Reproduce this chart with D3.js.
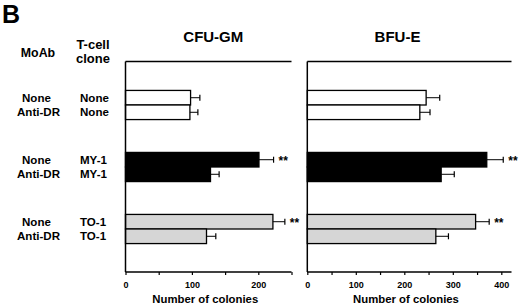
<!DOCTYPE html>
<html><head><meta charset="utf-8">
<script src="https://cdn.jsdelivr.net/npm/d3@7"></script>
<style>
html,body{margin:0;padding:0;background:#fff;}
svg{display:block;font-family:"Liberation Sans",Arial,Helvetica,sans-serif;font-weight:bold;}
</style></head>
<body><svg id="c" width="520" height="305"></svg>
<script>
// ---- data ----
const groups = ["None", "MY-1", "TO-1"];            // T-cell clone groups
const moab = ["None", "Anti-DR"];                    // MoAb within each group
const cloneLabels = ["None", "MY-1", "TO-1"];
const cfuGM = [[98, 97], [201, 128], [222, 122]];
const cfuGMErr = [[112, 109], [223, 141], [240, 136]];
const bfuE = [[245, 232], [370, 276], [347, 265]];
const bfuEErr = [[273, 253], [404, 303], [375, 291]];
const sigCFU = [[false, false], [true, false], [true, false]];
const sigBFU = [[false, false], [true, false], [true, false]];
const cfuTicks = [0, 50, 100, 150, 200, 250];
const cfuLabels = [0, 100, 200];
const bfuTicks = [0, 50, 100, 150, 200, 250, 300, 350, 400];
const bfuLabels = [0, 100, 200, 300, 400];
const fills = ["#ffffff", "#000000", "#d6d6d6"];

(function () {
const svg = d3.select("#c");
const plotTop = 61.5, plotBottom = 272;

// helper: text with horizontal stretch factor k
function txt(parent, x, yy, s, size, anchor, k) {
  const t = parent.append("text").attr("x", x).attr("y", yy).attr("font-size", size)
    .attr("text-anchor", anchor || "start").text(s);
  if (k && k !== 1) {
    const len = t.node().getComputedTextLength();
    t.attr("textLength", len * k).attr("lengthAdjust", "spacingAndGlyphs");
  }
  return t;
}

const y = d3.scaleBand().domain(groups).range([74, 260]).paddingInner(0.53).paddingOuter(0.265);
const yi = d3.scaleBand().domain(moab).range([0, y.bandwidth()]);

txt(svg, 2, 23, "B", 25);
txt(svg, 38, 57, "MoAb", 12, "middle", 1.03);
txt(svg, 93, 49, "T-cell", 12, "middle", 1.08);
txt(svg, 93, 63, "clone", 12, "middle", 1.08);

const moabX = {"None": 22, "Anti-DR": 17};
groups.forEach((g, gi) => {
  moab.forEach((m, mi) => {
    const cy = y(g) + yi(m) + yi.bandwidth() / 2 + 4;
    txt(svg, moabX[m], cy, m, 11, "start", 1.05);
    txt(svg, 80, cy, cloneLabels[gi], 11, "start", 1.05);
  });
});

function panel(x0, x1, maxV, vals, errs, sig, ticks, labels, title, titleX, labelX) {
  const x = d3.scaleLinear().domain([0, maxV]).range([x0, x1]);
  const g = svg.append("g");
  g.append("line").attr("x1", x0).attr("x2", x1).attr("y1", plotTop).attr("y2", plotTop).attr("stroke", "#000").attr("stroke-width", 1.5);
  groups.forEach((gr, gi) => {
    moab.forEach((m, mi) => {
      const by = y(gr) + yi(m);
      const h = yi.bandwidth();
      const cy = by + h / 2;
      g.append("rect").attr("x", x(0)).attr("y", by).attr("width", x(vals[gi][mi]) - x(0)).attr("height", h)
        .attr("fill", fills[gi]).attr("stroke", "#000").attr("stroke-width", 1.3);
      g.append("line").attr("x1", x(vals[gi][mi])).attr("x2", x(errs[gi][mi])).attr("y1", cy).attr("y2", cy).attr("stroke", "#000").attr("stroke-width", 1);
      g.append("line").attr("x1", x(errs[gi][mi])).attr("x2", x(errs[gi][mi])).attr("y1", cy - 3).attr("y2", cy + 3).attr("stroke", "#000").attr("stroke-width", 1.2);
      if (sig[gi][mi]) {
        txt(g, x(errs[gi][mi]) + 5, cy + 5, "**", 12, "start", 1);
      }
    });
  });
  g.append("line").attr("x1", x0).attr("x2", x0).attr("y1", plotTop).attr("y2", plotBottom).attr("stroke", "#000").attr("stroke-width", 1.5);
  const ax = g.append("g").attr("transform", `translate(0,${plotBottom})`)
    .call(d3.axisBottom(x).tickValues(ticks).tickSize(3).tickPadding(6.5)
      .tickFormat(d => labels.includes(d) ? d : ""));
  ax.select(".domain").attr("stroke-width", 1.5).attr("d", `M${x0},0H${x1}`);
  ax.selectAll(".tick line").attr("stroke-width", 1.2);
  ax.selectAll("text").attr("font-size", 9).attr("font-family", "Liberation Sans, Arial, sans-serif").attr("font-weight", "bold");
  txt(g, titleX, 42.3, title, 14, "middle", 1.07);
  txt(g, labelX, 302.5, "Number of colonies", 10.5, "middle", 1.08);
}

panel(125.5, 291.5, 250, cfuGM, cfuGMErr, sigCFU, cfuTicks, cfuLabels, "CFU-GM", 213.3, 205.3);
panel(307.3, 511.5, 421, bfuE, bfuEErr, sigBFU, bfuTicks, bfuLabels, "BFU-E", 397.5, 406);
})();
</script></body></html>
